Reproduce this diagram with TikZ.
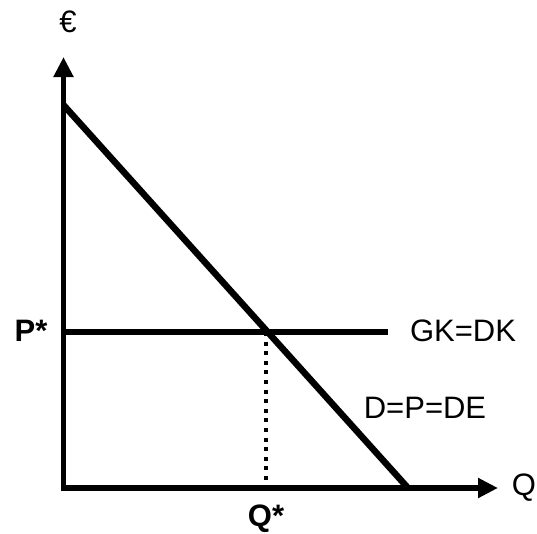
\documentclass[tikz,border=0pt]{standalone}
\usepackage{fontspec}
\setmainfont{Liberation Sans}
\usetikzlibrary{arrows.meta}
\begin{document}
\begin{tikzpicture}[x=1pt,y=-1pt,
  lbl/.style={inner sep=0pt,font=\fontsize{31}{36}\selectfont},
  blbl/.style={inner sep=0pt,font=\fontsize{31}{36}\selectfont\bfseries},
  axis/.style={line width=5.5pt,-{Triangle[length=20pt,width=19pt]}},
  curve/.style={line width=6.5pt},
  level/.style={line width=5.5pt},
  guide/.style={line width=3.8pt,dash pattern=on 4pt off 5.6pt}]
\useasboundingbox (0,0) rectangle (537,533);
\coordinate (O) at (63.5,488);
\coordinate (ytop) at (63.5,57);
\coordinate (xend) at (498,488);
\coordinate (dA) at (63.5,105);
\coordinate (dB) at (408,488);
\coordinate (hA) at (63.5,332);
\coordinate (hB) at (388,332);
\coordinate (eq) at (266,332);
\coordinate (qx) at (266,492);
\draw[axis] ([yshift=2.7pt]O) -- (ytop);
\draw[axis] ([xshift=-2.7pt]O) -- (xend);
\draw[curve,line cap=butt] (dA) -- (dB);
\draw[level] (hA) -- (hB);
\draw[guide] (eq) -- (qx);
\node[lbl] (euro) at (68,22) {€};
\node[lbl] (Q) at (524,488) {Q};
\node[blbl] (Ps) at (31,331) {P*};
\node[blbl] (Qs) at (266,519) {Q*};
\node[lbl] (GK) at (463,331) {GK=DK};
\node[lbl] (D) at (425,408) {D=P=DE};
\end{tikzpicture}
\end{document}
